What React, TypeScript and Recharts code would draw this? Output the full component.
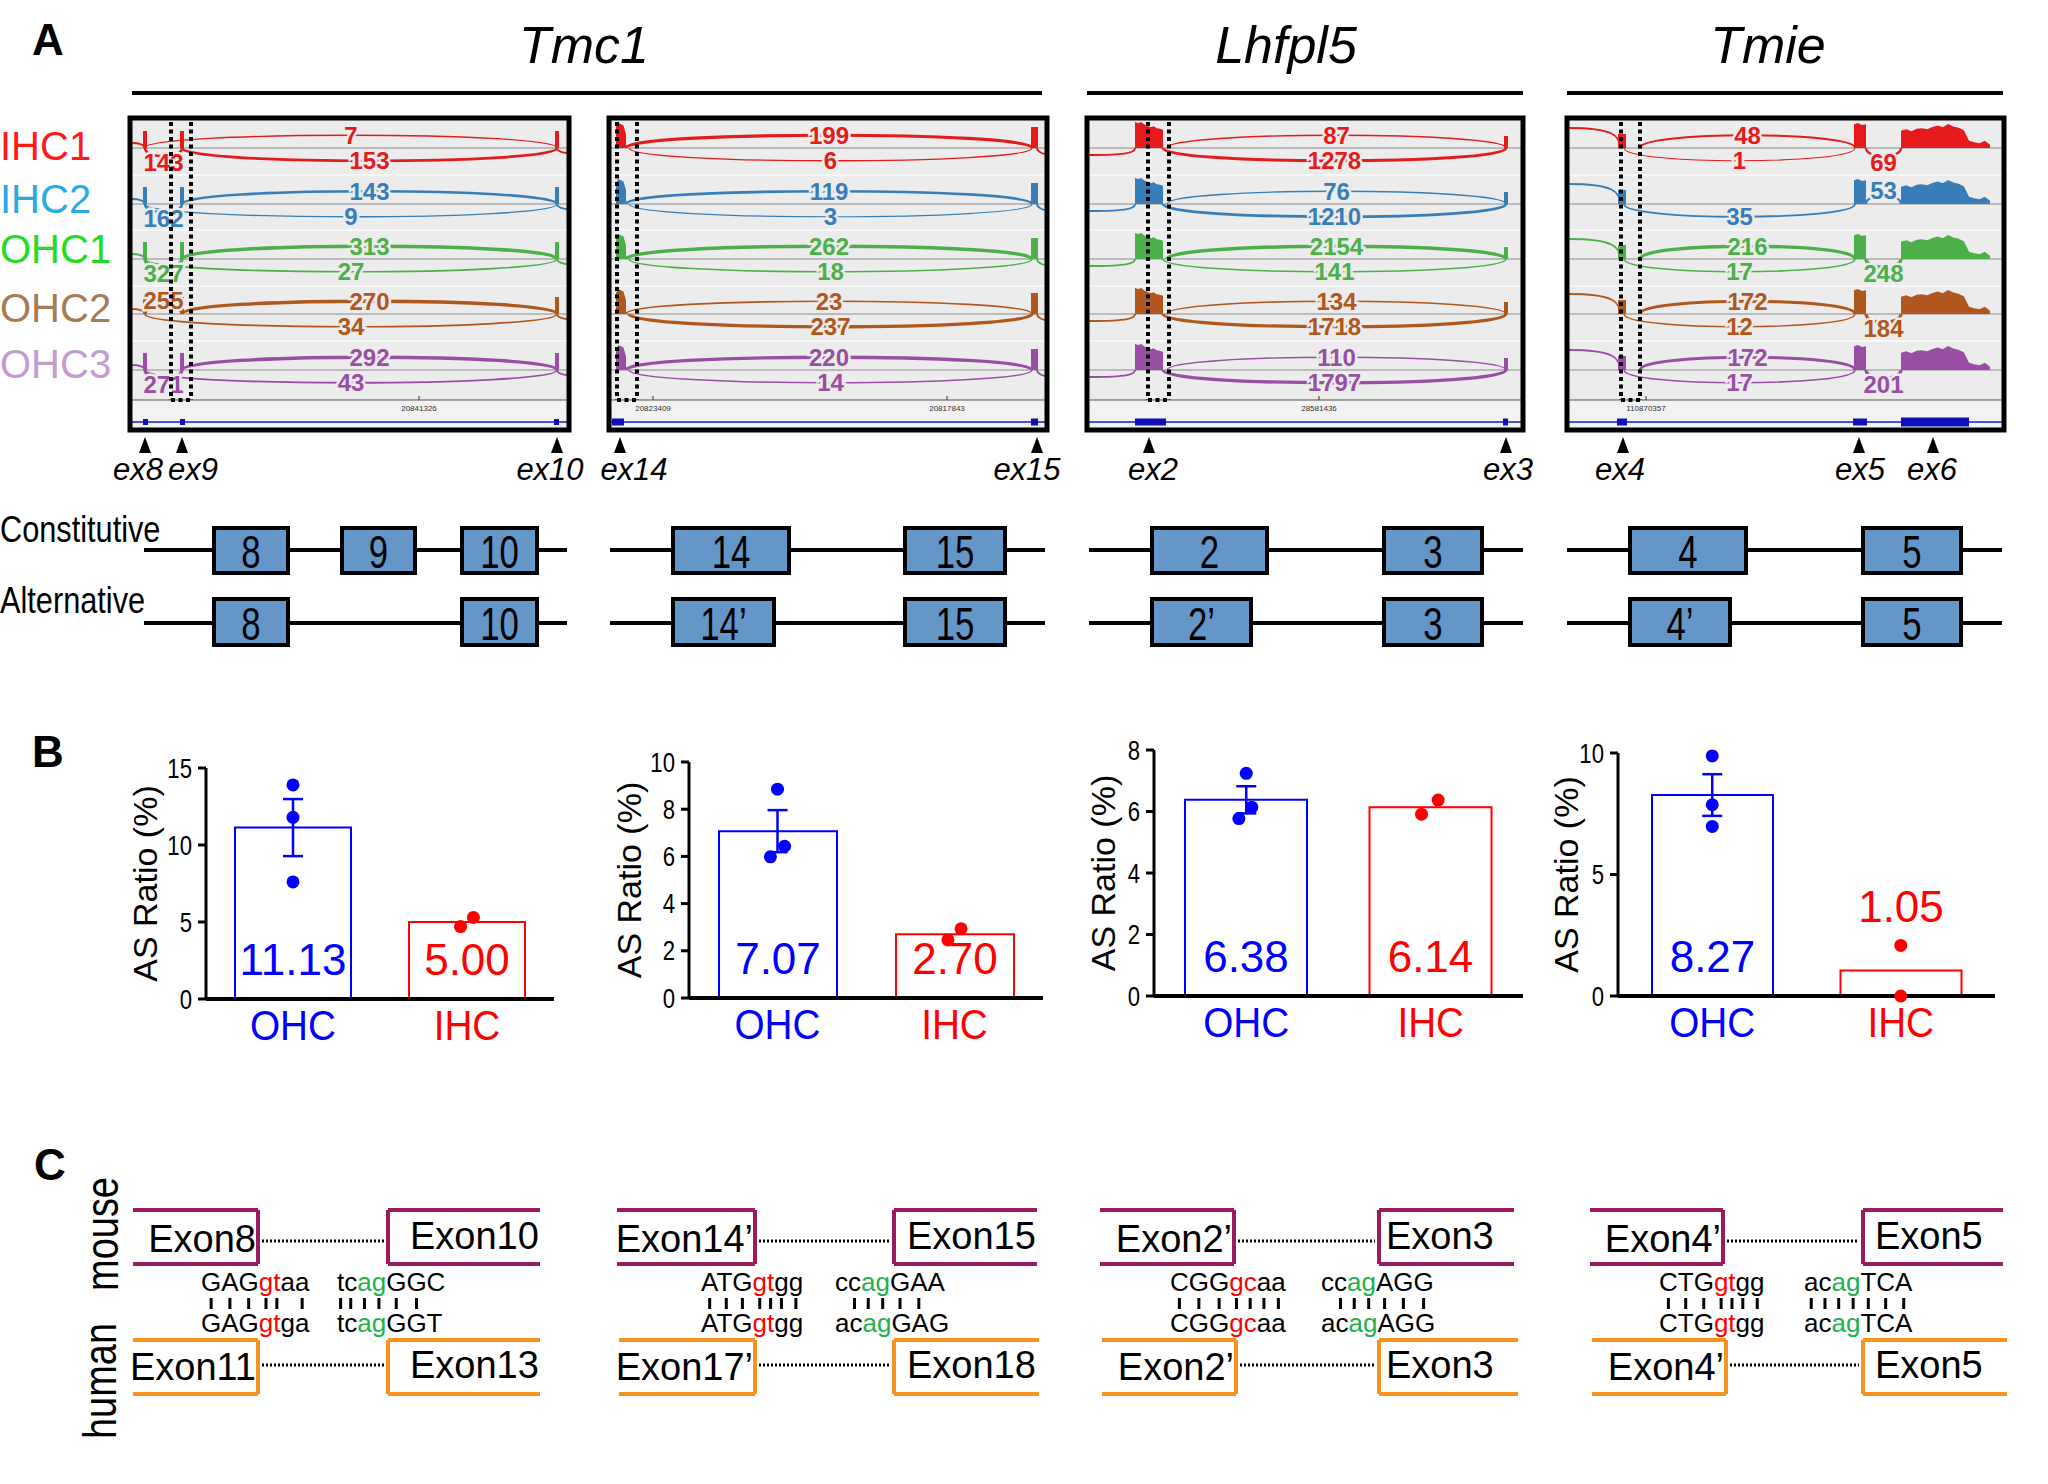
import {
  ComposedChart,
  Bar,
  Cell,
  XAxis,
  YAxis,
  Scatter,
  ErrorBar,
  LabelList,
} from 'recharts'

const FONT = "'Liberation Sans', Arial, Helvetica, sans-serif"

// ---------- panel A: junction read counts (IHC1, IHC2, OHC1, OHC2, OHC3) ----------
const samples = ['IHC1', 'IHC2', 'OHC1', 'OHC2', 'OHC3']
const tmc1Ex9Upper = [7, 143, 313, 270, 292]
const tmc1Ex9Lower = [153, 9, 27, 34, 43]
const tmc1Ex8to9 = [143, 162, 327, 255, 271]
const tmc1Ex14Upper = [199, 119, 262, 23, 220]
const tmc1Ex14Lower = [6, 3, 18, 237, 14]
const lhfpl5Upper = [87, 76, 2154, 134, 110]
const lhfpl5Lower = [1278, 1210, 141, 1718, 1797]
const tmieUpper = [48, null, 216, 172, 172]
const tmieLower = [1, 35, 17, 12, 17]
const tmieEx5to6 = [69, 53, 248, 184, 201]

// relative read depth across the wider exons
const tmc1Ex14Depth = [0.85, 1, 0.95, 0.9, 0.55]
const lhfpl5Ex2Depth = [1, 0.96, 1, 0.9, 0.86, 0.8, 0.84, 0.76, 0.74, 0.7]
const tmieEx5Depth = [0.95, 1, 0.92, 0.95]
const tmieEx6Depth = [0.72, 0.78, 0.7, 0.8, 0.82, 0.78, 0.88, 0.94, 0.86, 1, 0.9, 0.84, 0.74, 0.3, 0.24, 0.2, 0.3, 0.14]

const geneTitles = ['Tmc1', 'Lhfpl5', 'Tmie']
const exonMarkers = [['ex8', 'ex9', 'ex10'], ['ex14', 'ex15'], ['ex2', 'ex3'], ['ex4', 'ex5', 'ex6']]
const constitutiveExons = [['8', '9', '10'], ['14', '15'], ['2', '3'], ['4', '5']]
const alternativeExons = [['8', '10'], ['14\u2019', '15'], ['2\u2019', '3'], ['4\u2019', '5']]

// ---------- panel B: AS ratio (%) ----------
const cellTypes = ['OHC', 'IHC']
const tmc1Ex9Means = [11.13, 5.0]
const tmc1Ex9OHC = [13.9, 11.8, 7.6]
const tmc1Ex9IHC = [4.7, 5.3]
const tmc1Ex14Means = [7.07, 2.7]
const tmc1Ex14OHC = [8.85, 6.43, 5.98]
const tmc1Ex14IHC = [2.46, 2.93]
const lhfpl5Means = [6.38, 6.14]
const lhfpl5OHC = [7.24, 6.14, 5.77]
const lhfpl5IHC = [6.37, 5.91]
const tmieMeans = [8.27, 1.05]
const tmieOHC = [9.88, 7.87, 6.98]
const tmieIHC = [2.08, 0]

// ---------- panel C: splice site sequences ----------
const mouseExonNames = [['Exon8', 'Exon10'], ['Exon14\u2019', 'Exon15'], ['Exon2\u2019', 'Exon3'], ['Exon4\u2019', 'Exon5']]
const humanExonNames = [['Exon11', 'Exon13'], ['Exon17\u2019', 'Exon18'], ['Exon2\u2019', 'Exon3'], ['Exon4\u2019', 'Exon5']]
const mouseDonor = ['GAGgtaa', 'ATGgtgg', 'CGGgcaa', 'CTGgtgg']
const mouseAcceptor = ['tcagGGC', 'ccagGAA', 'ccagAGG', 'acagTCA']
const humanDonor = ['GAGgtga', 'ATGgtgg', 'CGGgcaa', 'CTGgtgg']
const humanAcceptor = ['tcagGGT', 'acagGAG', 'acagAGG', 'acagTCA']

// ---------- layout ----------
const SAMPLE_COLORS = ['#ff1a1a', '#29abe2', '#22dd22', '#a67c52', '#c39bd3']
const TRACK_COLORS = ['#e41a1c', '#377eb8', '#4daf4a', '#b0571e', '#984ea3']
const SAMPLE_LABEL_Y = [160, 213, 263, 322, 378]
const BOX_TOP = 118
const BOX_BOTTOM = 430
const TRACK_BASE = [148, 204, 259, 314, 370]
const TRACK_SEP = [175, 230, 286, 341]
const BOX_BG = '#ececec'

const titleLayout = [
  { cx: 584, line: [132, 1042] },
  { cx: 1286, line: [1087, 1523] },
  { cx: 1768, line: [1567, 2003] },
]
const markerX = [[145, 182, 557], [620, 1037], [1149, 1506], [1623, 1859, 1933]]
const markerLabelX = [[138, 193, 550], [634, 1027], [1153, 1508], [1620, 1860, 1932]]

const sashimiLayout = [
  {
    x0: 130, x1: 569, dots: [171, 191],
    upper: tmc1Ex9Upper, lower: tmc1Ex9Lower, short: tmc1Ex8to9,
    blocks: [{ a: 143, b: 147, h: 17 }, { a: 180, b: 184, h: 17 }, { a: 555, b: 559, h: 17 }],
    upperFrom: [145, 182, 182, 182, 182], upperTo: 557,
    lowerFrom: [182, 145, 145, 145, 145], lowerTo: 557,
    shortSpan: [145, 182], shortSide: [1, 1, 1, -1, 1],
    leadIn: { x: 145, dy: -5 }, leadOut: { x: 557, dy: 5 },
    coords: [{ x: 419, text: '20841326' }],
    model: [{ a: 143, b: 148, h: 6 }, { a: 180, b: 185, h: 6 }, { a: 554, b: 559, h: 6 }],
  },
  {
    x0: 609, x1: 1047, dots: [617, 637],
    upper: tmc1Ex14Upper, lower: tmc1Ex14Lower, short: null,
    blocks: [{ a: 616, b: 626, h: 25, depth: tmc1Ex14Depth }, { a: 1031, b: 1038, h: 21 }],
    upperFrom: [626, 626, 626, 626, 626], upperTo: 1032,
    lowerFrom: [629, 629, 629, 629, 629], lowerTo: 1032,
    shortSpan: null, shortSide: null,
    leadIn: null, leadOut: { x: 1037, dy: 6 },
    coords: [{ x: 653, text: '20823409' }, { x: 947, text: '20817843' }],
    model: [{ a: 612, b: 624, h: 7 }, { a: 1031, b: 1038, h: 7 }],
  },
  {
    x0: 1087, x1: 1523, dots: [1148, 1169],
    upper: lhfpl5Upper, lower: lhfpl5Lower, short: null,
    blocks: [{ a: 1135, b: 1163, h: 26, depth: lhfpl5Ex2Depth }, { a: 1504, b: 1508, h: 12 }],
    upperFrom: [1167, 1167, 1167, 1167, 1167], upperTo: 1506,
    lowerFrom: [1163, 1163, 1163, 1163, 1163], lowerTo: 1506,
    shortSpan: null, shortSide: null,
    leadIn: { x: 1135, dy: 7 }, leadOut: null,
    coords: [{ x: 1319, text: '28581436' }],
    model: [{ a: 1135, b: 1166, h: 7 }, { a: 1503, b: 1508, h: 7 }],
  },
  {
    x0: 1567, x1: 2004, dots: [1621, 1640],
    upper: tmieUpper, lower: tmieLower, short: tmieEx5to6,
    blocks: [
      { a: 1618, b: 1626, h: 14 },
      { a: 1854, b: 1866, h: 25, depth: tmieEx5Depth },
      { a: 1901, b: 1990, h: 24, depth: tmieEx6Depth },
    ],
    upperFrom: [1640, 1640, 1640, 1640, 1640], upperTo: 1855,
    lowerFrom: [1624, 1624, 1624, 1624, 1624], lowerTo: 1855,
    shortSpan: [1866, 1901], shortSide: [1, -1, 1, 1, 1],
    leadIn: { x: 1620, dy: -20 }, leadOut: null,
    coords: [{ x: 1646, text: '110870357' }],
    model: [{ a: 1617, b: 1627, h: 7 }, { a: 1853, b: 1867, h: 7 }, { a: 1901, b: 1969, h: 9 }],
  },
]

const geneLines = [[144, 567], [610, 1045], [1089, 1523], [1567, 2002]]
const constBoxes = [[[214, 288], [342, 415], [462, 537]], [[673, 789], [905, 1005]], [[1152, 1267], [1384, 1482]], [[1630, 1746], [1863, 1961]]]
const altBoxes = [[[214, 288], [462, 537]], [[673, 774], [905, 1005]], [[1152, 1251], [1384, 1482]], [[1630, 1730], [1863, 1961]]]

const cLayout = [
  { mL: [133, 258], mR: [388, 540], hL: [133, 258], hR: [388, 540], rText: 410, donorX: 201, accX: 337 },
  { mL: [617, 755], mR: [894, 1037], hL: [619, 755], hR: [894, 1039], rText: 907, donorX: 701, accX: 835 },
  { mL: [1100, 1234], mR: [1379, 1514], hL: [1102, 1236], hR: [1379, 1518], rText: 1386, donorX: 1170, accX: 1321 },
  { mL: [1590, 1723], mR: [1863, 2003], hL: [1592, 1726], hR: [1863, 2007], rText: 1875, donorX: 1659, accX: 1804 },
]

// ---------- text helpers ----------
let measureCtx: CanvasRenderingContext2D | null = null
function measure(text: string, size: number, weight = 'normal', style = 'normal') {
  if (!measureCtx) measureCtx = document.createElement('canvas').getContext('2d')
  if (!measureCtx) return text.length * size * 0.55
  measureCtx.font = `${style} ${weight} ${size}px 'Liberation Sans'`
  return measureCtx.measureText(text).width
}

function Txt({ x, y, size, children, squeeze = 1, anchor = 'start', fill = '#000', weight = 'normal', italic = false, ...rest }: any) {
  const s = String(children)
  const len = squeeze !== 1 ? measure(s, size, weight, italic ? 'italic' : 'normal') * squeeze : undefined
  return (
    <text
      x={x}
      y={y}
      fontSize={size}
      fontFamily={FONT}
      fill={fill}
      textAnchor={anchor}
      fontWeight={weight}
      fontStyle={italic ? 'italic' : 'normal'}
      textLength={len}
      lengthAdjust={len ? 'spacingAndGlyphs' : undefined}
      {...rest}
    >
      {s}
    </text>
  )
}

// ---------- panel A ----------
function arcPath(a: number, c: number, base: number, k: number, dir: number) {
  const y = base + dir * k
  return `M ${a} ${base} C ${a} ${y} ${c} ${y} ${c} ${base}`
}

function SashimiBox({ box }: { box: any }) {
  const { x0, x1 } = box
  const all = [...box.upper, ...box.lower, ...(box.short || [])].filter((v) => v != null)
  const maxCount = Math.max(...all)
  const sw = (n: number) => 0.9 + 2.6 * Math.sqrt(n / maxCount)
  const labels: any[] = []
  const K = 17

  const tracks = TRACK_BASE.map((base, i) => {
    const col = TRACK_COLORS[i]
    const parts: any[] = []
    box.blocks.forEach((bl: any, j: number) => {
      if (bl.depth) {
        const n = bl.depth.length
        const pts = bl.depth.map((d: number, q: number) => `${bl.a + (q * (bl.b - bl.a)) / (n - 1)},${base - d * bl.h}`)
        parts.push(<polygon key={'b' + j} points={`${bl.a},${base} ${pts.join(' ')} ${bl.b},${base}`} fill={col} />)
      } else {
        parts.push(<rect key={'b' + j} x={bl.a} y={base - bl.h} width={bl.b - bl.a} height={bl.h} fill={col} />)
      }
    })
    if (box.leadIn) {
      const { x, dy } = box.leadIn
      parts.push(<path key="li" d={`M ${x0 + 2} ${base + dy} C ${x - 6} ${base + dy} ${x} ${base + dy * 0.6} ${x} ${base}`} fill="none" stroke={col} strokeWidth={1.8} />)
    }
    if (box.leadOut) {
      const { x, dy } = box.leadOut
      parts.push(<path key="lo" d={`M ${x} ${base} C ${x} ${base + dy * 0.6} ${x + 6} ${base + dy} ${x1 - 2} ${base + dy}`} fill="none" stroke={col} strokeWidth={1.8} />)
    }
    const u = box.upper[i]
    if (u != null) {
      const a = box.upperFrom[i]
      const c = box.upperTo
      parts.push(<path key="u" d={arcPath(a, c, base, K, -1)} fill="none" stroke={col} strokeWidth={sw(u)} />)
      labels.push({ x: (a + c) / 2, y: base - 0.75 * K, text: u, col })
    }
    const l = box.lower[i]
    if (l != null) {
      const a = box.lowerFrom[i]
      const c = box.lowerTo
      parts.push(<path key="l" d={arcPath(a, c, base, K, 1)} fill="none" stroke={col} strokeWidth={sw(l)} />)
      labels.push({ x: (a + c) / 2, y: base + 0.75 * K, text: l, col })
    }
    if (box.short) {
      const [a, c] = box.shortSpan
      const side = box.shortSide[i]
      parts.push(<path key="s" d={arcPath(a, c, base, 11, side)} fill="none" stroke={col} strokeWidth={sw(box.short[i])} />)
      labels.push({ x: (a + c) / 2, y: base + side * 14, text: box.short[i], col })
    }
    return <g key={i}>{parts}</g>
  })

  return (
    <g>
      <rect x={x0} y={BOX_TOP} width={x1 - x0} height={BOX_BOTTOM - BOX_TOP} fill={BOX_BG} />
      <rect x={x0} y={400} width={x1 - x0} height={30} fill="#f2f2f2" />
      {TRACK_SEP.map((y) => (
        <line key={y} x1={x0} x2={x1} y1={y} y2={y} stroke="#f8f8f8" strokeWidth={2} />
      ))}
      {TRACK_BASE.map((b) => (
        <line key={b} x1={x0} x2={x1} y1={b} y2={b} stroke="#8a8a8a" strokeWidth={1} />
      ))}
      {tracks}
      {labels.map((lb, j) => (
        <text
          key={j}
          x={lb.x}
          y={lb.y}
          dy="0.36em"
          textAnchor="middle"
          fontFamily={FONT}
          fontWeight="bold"
          fontSize={24}
          fill={lb.col}
          stroke={BOX_BG}
          strokeWidth={5}
          paintOrder="stroke"
        >
          {lb.text}
        </text>
      ))}
      <line x1={x0} x2={x1} y1={400} y2={400} stroke="#555" strokeWidth={1} />
      {box.coords.map((c: any) => (
        <g key={c.text}>
          <line x1={c.x} x2={c.x} y1={396} y2={400} stroke="#333" strokeWidth={1} />
          <text x={c.x} y={411} fontSize={8} fontFamily={FONT} textAnchor="middle" fill="#333">
            {c.text}
          </text>
        </g>
      ))}
      <line x1={x0} x2={x1} y1={422} y2={422} stroke="#1a1ac8" strokeWidth={1.5} />
      {box.model.map((m: any, j: number) => (
        <rect key={j} x={m.a} y={422 - m.h / 2} width={m.b - m.a} height={m.h} fill="#1010b8" />
      ))}
      {box.dots.map((x: number) => (
        <line key={x} x1={x} x2={x} y1={BOX_TOP + 4} y2={400} stroke="#000" strokeWidth={4} strokeDasharray="4 3.5" />
      ))}
      <line x1={box.dots[0]} x2={box.dots[1]} y1={400} y2={400} stroke="#000" strokeWidth={4} strokeDasharray="4 3.5" />
      <rect x={x0} y={BOX_TOP} width={x1 - x0} height={BOX_BOTTOM - BOX_TOP} fill="none" stroke="#000" strokeWidth={5} />
    </g>
  )
}

function PanelA() {
  return (
    <g>
      <Txt x={32} y={55} size={44} weight="bold">A</Txt>
      {geneTitles.map((t, i) => (
        <g key={t}>
          <Txt x={titleLayout[i].cx} y={63} size={52} italic anchor="middle">{t}</Txt>
          <line x1={titleLayout[i].line[0]} x2={titleLayout[i].line[1]} y1={93} y2={93} stroke="#000" strokeWidth={4} />
        </g>
      ))}
      {samples.map((s, i) => (
        <Txt key={s} x={0} y={SAMPLE_LABEL_Y[i]} size={40} fill={SAMPLE_COLORS[i]}>{s}</Txt>
      ))}
      {sashimiLayout.map((b, i) => (
        <SashimiBox key={i} box={b} />
      ))}
      {exonMarkers.map((grp, g) =>
        grp.map((m, j) => {
          const x = markerX[g][j]
          return (
            <g key={m}>
              <polygon points={`${x - 6},453 ${x + 6},453 ${x},437`} fill="#000" />
              <Txt x={markerLabelX[g][j]} y={480} size={31} italic anchor="middle">{m}</Txt>
            </g>
          )
        }),
      )}
      <Txt x={0} y={542} size={37} squeeze={0.83}>Constitutive</Txt>
      <Txt x={0} y={613} size={37} squeeze={0.83}>Alternative</Txt>
      {geneLines.map((ln, g) => (
        <g key={g}>
          {[
            { y: 550, top: 528, bottom: 573, boxes: constBoxes[g], names: constitutiveExons[g] },
            { y: 623, top: 599, bottom: 645, boxes: altBoxes[g], names: alternativeExons[g] },
          ].map((row, r) => (
            <g key={r}>
              <line x1={ln[0]} x2={ln[1]} y1={row.y} y2={row.y} stroke="#000" strokeWidth={4} />
              {row.boxes.map((bx, j) => (
                <g key={j}>
                  <rect x={bx[0]} y={row.top} width={bx[1] - bx[0]} height={row.bottom - row.top} fill="#6496c8" stroke="#000" strokeWidth={4} />
                  <Txt x={(bx[0] + bx[1]) / 2} y={row.bottom - 5} size={47} squeeze={0.74} anchor="middle">
                    {row.names[j]}
                  </Txt>
                </g>
              ))}
            </g>
          ))}
        </g>
      ))}
    </g>
  )
}

// ---------- panel C ----------
function Seq({ x, y, seq, hi, color }: { x: number; y: number; seq: string; hi: number; color: string }) {
  return (
    <text x={x} y={y} fontSize={26} fontFamily={FONT} fill="#000">
      <tspan>{seq.slice(0, hi)}</tspan>
      <tspan fill={color}>{seq.slice(hi, hi + 2)}</tspan>
      <tspan>{seq.slice(hi + 2)}</tspan>
    </text>
  )
}

function matchBars(x: number, a: string, b: string) {
  const out: any[] = []
  for (let i = 0; i < a.length; i++) {
    if (a[i] !== b[i]) continue
    const cx = x + measure(a.slice(0, i), 26) + measure(a[i], 26) / 2
    out.push(<line key={i} x1={cx} x2={cx} y1={1298} y2={1309} stroke="#000" strokeWidth={3} />)
  }
  return out
}

function OpenBox({ l, r, top, bottom, color, openLeft }: any) {
  const vx = openLeft ? r : l
  return (
    <g stroke={color} strokeWidth={4} fill="none">
      <line x1={l} x2={r} y1={top} y2={top} />
      <line x1={l} x2={r} y1={bottom} y2={bottom} />
      <line x1={vx} x2={vx} y1={top} y2={bottom} />
    </g>
  )
}

function PanelC() {
  const MOUSE = '#9b1b5e'
  const HUMAN = '#f7941d'
  return (
    <g>
      <Txt x={34} y={1180} size={44} weight="bold">C</Txt>
      <Txt x={0} y={0} size={46} anchor="middle" transform="translate(118,1234) rotate(-90)" textLength={114} lengthAdjust="spacingAndGlyphs">mouse</Txt>
      <Txt x={0} y={0} size={46} anchor="middle" transform="translate(116,1381) rotate(-90)" textLength={116} lengthAdjust="spacingAndGlyphs">human</Txt>
      {cLayout.map((c, g) => (
        <g key={g}>
          <OpenBox l={c.mL[0]} r={c.mL[1]} top={1210} bottom={1264} color={MOUSE} openLeft />
          <OpenBox l={c.mR[0]} r={c.mR[1]} top={1210} bottom={1264} color={MOUSE} />
          <OpenBox l={c.hL[0]} r={c.hL[1]} top={1340} bottom={1394} color={HUMAN} openLeft />
          <OpenBox l={c.hR[0]} r={c.hR[1]} top={1340} bottom={1394} color={HUMAN} />
          <line x1={c.mL[1] + 4} x2={c.mR[0] - 4} y1={1241} y2={1241} stroke="#000" strokeWidth={3} strokeDasharray="2 2" />
          <line x1={c.hL[1] + 4} x2={c.hR[0] - 4} y1={1365} y2={1365} stroke="#000" strokeWidth={3} strokeDasharray="2 2" />
          <Txt x={c.mL[1] - 2} y={1252} size={38} anchor="end">{mouseExonNames[g][0]}</Txt>
          <Txt x={c.rText} y={1249} size={38}>{mouseExonNames[g][1]}</Txt>
          <Txt x={c.hL[1] - 2} y={1380} size={38} anchor="end">{humanExonNames[g][0]}</Txt>
          <Txt x={c.rText} y={1378} size={38}>{humanExonNames[g][1]}</Txt>
          <Seq x={c.donorX} y={1291} seq={mouseDonor[g]} hi={3} color="#ff0000" />
          <Seq x={c.accX} y={1291} seq={mouseAcceptor[g]} hi={2} color="#22b14c" />
          <Seq x={c.donorX} y={1332} seq={humanDonor[g]} hi={3} color="#ff0000" />
          <Seq x={c.accX} y={1332} seq={humanAcceptor[g]} hi={2} color="#22b14c" />
          {matchBars(c.donorX, mouseDonor[g], humanDonor[g])}
          {matchBars(c.accX, mouseAcceptor[g], humanAcceptor[g])}
        </g>
      ))}
    </g>
  )
}

// ---------- panel B ----------
const BAR_COLORS = ['#0000ff', '#ff0000']
const YW = 100
const MT = 20
const MR = 4
const XH = 60

const ratioCharts = [
  { axisX: 206, xEnd: 554, y0: 999, yTop: 768, max: 15, ticks: [0, 5, 10, 15], barW: 116, labelX: 157, means: tmc1Ex9Means, ohc: tmc1Ex9OHC, ihc: tmc1Ex9IHC, jOHC: [0, 0, 0], jIHC: [-0.037, 0.037] },
  { axisX: 689, xEnd: 1043, y0: 998, yTop: 762, max: 10, ticks: [0, 2, 4, 6, 8, 10], barW: 118, labelX: 641, means: tmc1Ex14Means, ohc: tmc1Ex14OHC, ihc: tmc1Ex14IHC, jOHC: [0, 0.04, -0.04], jIHC: [-0.037, 0.037] },
  { axisX: 1154, xEnd: 1523, y0: 996, yTop: 750, max: 8, ticks: [0, 2, 4, 6, 8], barW: 122, labelX: 1115, means: lhfpl5Means, ohc: lhfpl5OHC, ihc: lhfpl5IHC, jOHC: [0, 0.03, -0.04], jIHC: [0.04, -0.05] },
  { axisX: 1618, xEnd: 1995, y0: 996, yTop: 753, max: 10, ticks: [0, 5, 10], barW: 121, labelX: 1578, means: tmieMeans, ohc: tmieOHC, ihc: tmieIHC, jOHC: [0, 0, 0], jIHC: [0, 0] },
]

function CellTick(props: any) {
  const { x, y, payload } = props
  const col = payload.value === 'OHC' ? BAR_COLORS[0] : BAR_COLORS[1]
  return (
    <Txt x={x} y={y + 41} size={43} anchor="middle" fill={col} squeeze={0.9}>
      {payload.value}
    </Txt>
  )
}

function RatioTick(props: any) {
  const { x, y, payload } = props
  return (
    <Txt x={x} y={y + 9.5} size={27} anchor="end" squeeze={0.82}>
      {payload.value}
    </Txt>
  )
}

function RatioChart({ cfg }: { cfg: any }) {
  const plotW = cfg.xEnd - cfg.axisX
  const plotH = cfg.y0 - cfg.yTop
  const width = YW + plotW + MR
  const height = MT + plotH + XH
  const left = cfg.axisX - YW
  const data = cellTypes.map((c, i) => ({ cell: c, mean: cfg.means[i] }))
  const ohcPts = cfg.ohc.map((v: number, i: number) => ({ x: cfg.jOHC[i], y: v }))
  const ihcPts = cfg.ihc.map((v: number, i: number) => ({ x: 1 + cfg.jIHC[i], y: v }))
  const n = cfg.ohc.length
  const sd = Math.sqrt(cfg.ohc.reduce((s: number, v: number) => s + (v - cfg.means[0]) ** 2, 0) / (n - 1))
  const errData = [{ x: 0, y: cfg.means[0], err: sd / Math.sqrt(n) }]

  const meanLabel = (p: any) => {
    const vb = p.viewBox || p
    const { x, y, width: w, height: h } = vb
    const idx = p.index != null ? p.index : p.value === cfg.means[0] ? 0 : 1
    const ty = h > 60 ? y + h - 24 : y - 48
    return (
      <Txt x={x + w / 2} y={ty} size={44} anchor="middle" fill={BAR_COLORS[idx]}>
        {Number(p.value).toFixed(2)}
      </Txt>
    )
  }

  const axisLabel = (p: any) => {
    const vb = p.viewBox
    const cy = vb.y + vb.height / 2
    return (
      <text
        transform={`translate(${cfg.labelX - left},${cy}) rotate(-90)`}
        textAnchor="middle"
        fontSize={34}
        fontFamily={FONT}
        fill="#000"
      >
        AS Ratio (%)
      </text>
    )
  }

  return (
    <div style={{ position: 'absolute', left, top: cfg.yTop - MT }}>
      <ComposedChart width={width} height={height} data={data} margin={{ top: MT, right: MR, bottom: 0, left: 0 }}>
        <XAxis
          dataKey="cell"
          interval={0}
          height={XH}
          tickLine={false}
          tickSize={0}
          tickMargin={0}
          axisLine={{ stroke: '#000', strokeWidth: 4 }}
          tick={<CellTick />}
        />
        <XAxis xAxisId="n" type="number" dataKey="x" domain={[-0.5, 1.5]} hide />
        <YAxis
          width={YW}
          type="number"
          domain={[0, cfg.max]}
          ticks={cfg.ticks}
          interval={0}
          tickSize={8}
          tickMargin={6}
          axisLine={{ stroke: '#000', strokeWidth: 3 }}
          tickLine={{ stroke: '#000', strokeWidth: 3 }}
          tick={<RatioTick />}
          label={{ content: axisLabel }}
        />
        <Bar dataKey="mean" barSize={cfg.barW} isAnimationActive={false}>
          {data.map((d, i) => (
            <Cell key={d.cell} fill="#ffffff" stroke={BAR_COLORS[i]} strokeWidth={2} />
          ))}
          <LabelList dataKey="mean" content={meanLabel} />
        </Bar>
        <Scatter xAxisId="n" data={errData} dataKey="y" shape={() => <g />} isAnimationActive={false}>
          <ErrorBar dataKey="err" direction="y" width={10} stroke={BAR_COLORS[0]} strokeWidth={2.5} isAnimationActive={false} />
        </Scatter>
        <Scatter
          xAxisId="n"
          data={ohcPts}
          dataKey="y"
          isAnimationActive={false}
          shape={(p: any) => <circle cx={p.cx} cy={p.cy} r={6.5} fill={BAR_COLORS[0]} />}
        />
        <Scatter
          xAxisId="n"
          data={ihcPts}
          dataKey="y"
          isAnimationActive={false}
          shape={(p: any) => <circle cx={p.cx} cy={p.cy} r={6.5} fill={BAR_COLORS[1]} />}
        />
      </ComposedChart>
    </div>
  )
}

export default function App() {
  return (
    <div style={{ position: 'absolute', left: 0, top: 0, width: 2048, height: 1484, background: '#fff', overflow: 'hidden', fontFamily: FONT }}>
      <svg width={2048} height={1484} style={{ position: 'absolute', left: 0, top: 0 }}>
        <PanelA />
        <Txt x={32} y={767} size={44} weight="bold">B</Txt>
        <PanelC />
      </svg>
      {ratioCharts.map((c, i) => (
        <RatioChart key={i} cfg={c} />
      ))}
    </div>
  )
}
